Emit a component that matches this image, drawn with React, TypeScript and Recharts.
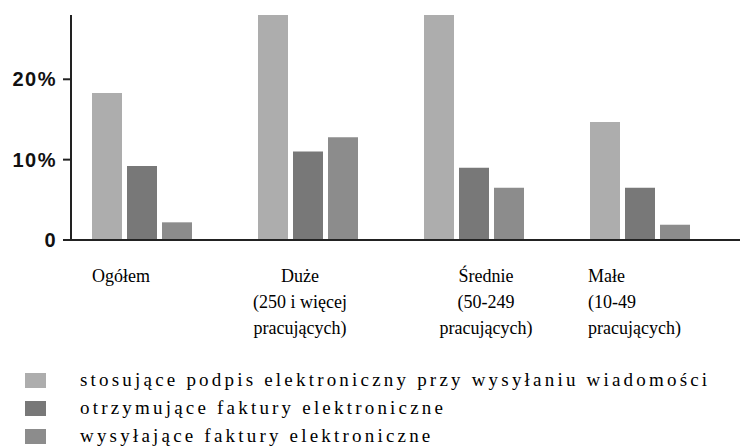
import React from 'react';
import { BarChart, Bar, XAxis, YAxis, Legend } from 'recharts';

// ---- data ----
const categories = ['Ogółem', 'Duże', 'Średnie', 'Małe'];
const categoryLines = [
  ['Ogółem'],
  ['Duże', '(250 i więcej', 'pracujących)'],
  ['Średnie', '(50-249', 'pracujących)'],
  ['Małe', '(10-49', 'pracujących)'],
];
const seriesNames = [
  'stosujące podpis elektroniczny przy wysyłaniu wiadomości',
  'otrzymujące faktury elektroniczne',
  'wysyłające faktury elektroniczne',
];
const signatureValues = [18.3, 34, 33, 14.7];
const receivingValues = [9.2, 11.0, 9.0, 6.5];
const sendingValues = [2.2, 12.8, 6.5, 1.9];
const yTicks = [0, 10, 20];

// ---- styling / layout ----
const COLORS = ['#adadad', '#787878', '#8c8c8c'];
const SERIF =
  "'Liberation Serif', 'Times New Roman', Times, Tinos, 'Noto Serif', 'DejaVu Serif', FreeSerif, 'Liberation Sans', serif";
const SANS = "'Liberation Sans', Arial, sans-serif";
const LABEL_ANCHOR = ['start', 'middle', 'middle', 'start'];
const LABEL_SHIFT = [-50, -8, 12, -52];

const data = categories.map((c, i) => ({
  name: c,
  s0: signatureValues[i],
  s1: receivingValues[i],
  s2: sendingValues[i],
}));

const CategoryTick = (props: any) => {
  const { x, y, payload } = props;
  const i = categories.indexOf(payload.value);
  const lines = categoryLines[i] || [String(payload.value)];
  const tx = x + LABEL_SHIFT[i];
  return (
    <g>
      <text
        x={tx}
        y={y}
        textAnchor={LABEL_ANCHOR[i] as any}
        style={{ fontFamily: SERIF, fontSize: 18 }}
        fill="#000"
      >
        {lines.map((l, k) => (
          <tspan key={k} x={tx} dy={k === 0 ? 42 : 26}>
            {l}
          </tspan>
        ))}
      </text>
    </g>
  );
};

const renderLegend = (props: any) => {
  const payload = [...(props.payload || [])].sort(
    (a: any, b: any) => seriesNames.indexOf(a.value) - seriesNames.indexOf(b.value)
  );
  return (
    <div>
      {payload.map((entry: any, i: number) => (
        <div key={i} style={{ display: 'flex', alignItems: 'center', height: 28 }}>
          <span
            style={{
              display: 'inline-block',
              width: 21,
              height: 15,
              background: entry.color,
              marginLeft: 25,
              marginRight: 34,
            }}
          />
          <span
            style={{
              fontFamily: SERIF,
              fontSize: 19,
              letterSpacing: 3.2,
              color: '#000',
              whiteSpace: 'nowrap',
            }}
          >
            {entry.value}
          </span>
        </div>
      ))}
    </div>
  );
};

export default function App() {
  return (
    <div style={{ width: 740, height: 446, background: '#fff', position: 'relative' }}>
      <style>{'body{margin:0;background:#fff}'}</style>
      <BarChart
        width={740}
        height={446}
        data={data}
        margin={{ top: 15, right: 0, bottom: 126, left: 0 }}
        barSize={30}
        barGap={5}
      >
        <XAxis
          dataKey="name"
          height={80}
          padding={{ left: -12, right: 17 }}
          axisLine={{ stroke: '#222', strokeWidth: 2 }}
          tickLine={false}
          tickSize={0}
          tickMargin={0}
          interval={0}
          tick={<CategoryTick />}
        />
        <YAxis
          width={71}
          domain={[0, 28]}
          allowDataOverflow
          ticks={yTicks}
          tickFormatter={(v: number) => (v === 0 ? '0' : `${v}%`)}
          axisLine={{ stroke: '#222', strokeWidth: 2 }}
          tickLine={{ stroke: '#222', strokeWidth: 2 }}
          tickSize={8}
          tickMargin={6}
          tick={{ fontFamily: SANS, fontSize: 20, fontWeight: 700, fill: '#111', letterSpacing: 1.5 }}
        />
        <Legend
          layout="horizontal"
          verticalAlign="middle"
          align="center"
          content={renderLegend}
          wrapperStyle={{ top: 366, left: 0, width: 740 }}
        />
        <Bar dataKey="s0" name={seriesNames[0]} fill={COLORS[0]} isAnimationActive={false} />
        <Bar dataKey="s1" name={seriesNames[1]} fill={COLORS[1]} isAnimationActive={false} />
        <Bar dataKey="s2" name={seriesNames[2]} fill={COLORS[2]} isAnimationActive={false} />
      </BarChart>
    </div>
  );
}
